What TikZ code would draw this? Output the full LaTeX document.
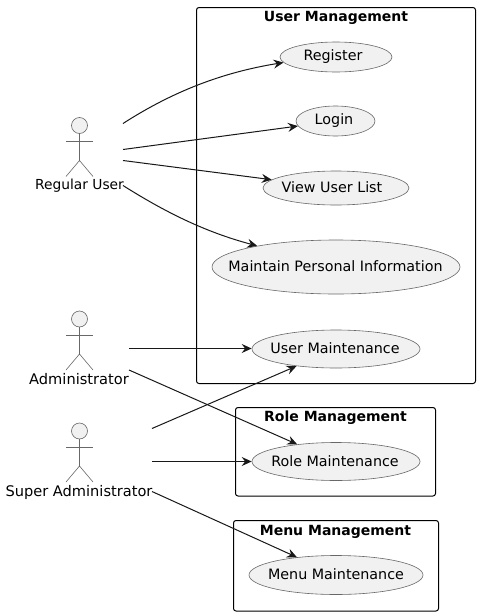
\documentclass[tikz,border=0pt]{standalone}
\usepackage{fontspec}
\setmainfont{DejaVu Sans}
\usetikzlibrary{arrows.meta,shapes.geometric}
\definecolor{umlink}{HTML}{181818}
\definecolor{umlthin}{HTML}{686868}
\definecolor{umlfill}{HTML}{F1F1F1}
\tikzset{
  x=1pt,y=-1pt,
  pagebg/.style={fill=white,draw=none},
  usecase/.style={ellipse,draw=umlthin,fill=umlfill,line width=0.6pt,inner sep=0pt},
  casetext/.style={font=\fontsize{14.3}{16}\selectfont,text=black,inner sep=0pt,yshift=0.5pt},
  cluster/.style={draw=black,line width=1pt,rounded corners=2.5pt,fill=none},
  clustertitle/.style={font=\fontsize{14}{16}\selectfont\bfseries,text=black,inner sep=0pt},
  actorname/.style={font=\fontsize{14.2}{16}\selectfont,text=black,inner sep=0pt},
  link/.style={draw=umlink,line width=1pt,-{Stealth[length=10pt,width=9pt,inset=3.5pt]}},
  limb/.style={draw=umlthin,line width=0.6pt},
  stickman/.pic={
    \node[circle,draw=umlthin,fill=umlfill,line width=0.6pt,minimum size=16pt,inner sep=0pt] (-head) at (0,0) {};
    \coordinate (-hip) at (0,35);
    \coordinate (-la) at (-13.5,16); \coordinate (-ra) at (13.5,16);
    \coordinate (-lf) at (-13.5,51); \coordinate (-rf) at (13.5,51);
    \draw[limb] (-head) -- (-hip);
    \draw[limb] (-la) -- (-ra);
    \draw[limb] (-lf) -- (-hip) -- (-rf);
  }
}
\begin{document}
\begin{tikzpicture}
\path[pagebg] (0,0) rectangle (480,616);
\useasboundingbox (0,0) rectangle (480,616);

% clusters
\draw[cluster] (196.5,7.5) rectangle (475.5,383.5);
\draw[cluster] (235.5,407.5) rectangle (435.5,496);
\draw[cluster] (233.5,520.5) rectangle (438.5,611);
\node[clustertitle] (tuser) at (336,18) {User Management};
\node[clustertitle] (trole) at (335.5,418) {Role Management};
\node[clustertitle] (tmenu) at (335.5,531.5) {Menu Management};

% use cases
\node[usecase,minimum width=112pt,minimum height=30pt,label={[casetext,xshift=-3pt,yshift=-0.5pt]center:Register}] (register) at (336,57) {};
\node[usecase,minimum width=79pt,minimum height=30pt,label={[casetext,xshift=-1.5pt]center:Login}] (login) at (335.5,121) {};
\node[usecase,minimum width=146pt,minimum height=34pt,label={[casetext,xshift=-4pt]center:View User List}] (viewlist) at (336,188) {};
\node[usecase,minimum width=248pt,minimum height=54pt,label={[casetext,xshift=-0.5pt]center:Maintain Personal Information}] (maintain) at (336,267) {};
\node[usecase,minimum width=168pt,minimum height=38pt,label={[casetext,xshift=-1pt]center:User Maintenance}] (usermaint) at (336,349) {};
\node[usecase,minimum width=168pt,minimum height=38pt,label={[casetext,xshift=-1pt]center:Role Maintenance}] (rolemaint) at (336,461.5) {};
\node[usecase,minimum width=174pt,minimum height=39pt,label={[casetext]center:Menu Maintenance}] (menumaint) at (336,575) {};

% actors
\pic (ru) at (79.5,125.5) {stickman};
\pic (ad) at (79.5,319) {stickman};
\pic (sa) at (79.5,431) {stickman};
\node[actorname,font=\fontsize{13.8}{16}\selectfont] (runame) at (79.5,186) {Regular User};
\node[actorname,font=\fontsize{14.6}{16}\selectfont] (adname) at (79,379.5) {Administrator};
\node[actorname,font=\fontsize{14.6}{16}\selectfont] (saname) at (79,492) {Super Administrator};

% connector start points
\coordinate (ru1) at (123,123.5);
\coordinate (ru2) at (123,149.5);
\coordinate (ru3) at (123,160.5);
\coordinate (ru4) at (123,185.5);
\coordinate (ad1) at (129,348.5);
\coordinate (ad2) at (129,370);
\coordinate (sa1) at (152,428.5);
\coordinate (sa2) at (152,461.5);
\coordinate (sa3) at (152,491.5);

% connectors
\draw[link] (ru1) .. controls (175,90) and (225,72) .. (register.186);
\draw[link] (ru2) -- (login);
\draw[link] (ru3) -- (viewlist);
\draw[link] (ru4) .. controls (165,212) and (205,232) .. (maintain.165.5);
\draw[link] (ad1) -- (ad1 -| usermaint.west);
\draw[link] (ad2) -- (rolemaint);
\draw[link] (sa1) -- (usermaint);
\draw[link] (sa2) -- (sa2 -| rolemaint.west);
\draw[link] (sa3) -- (menumaint);
\end{tikzpicture}
\end{document}
